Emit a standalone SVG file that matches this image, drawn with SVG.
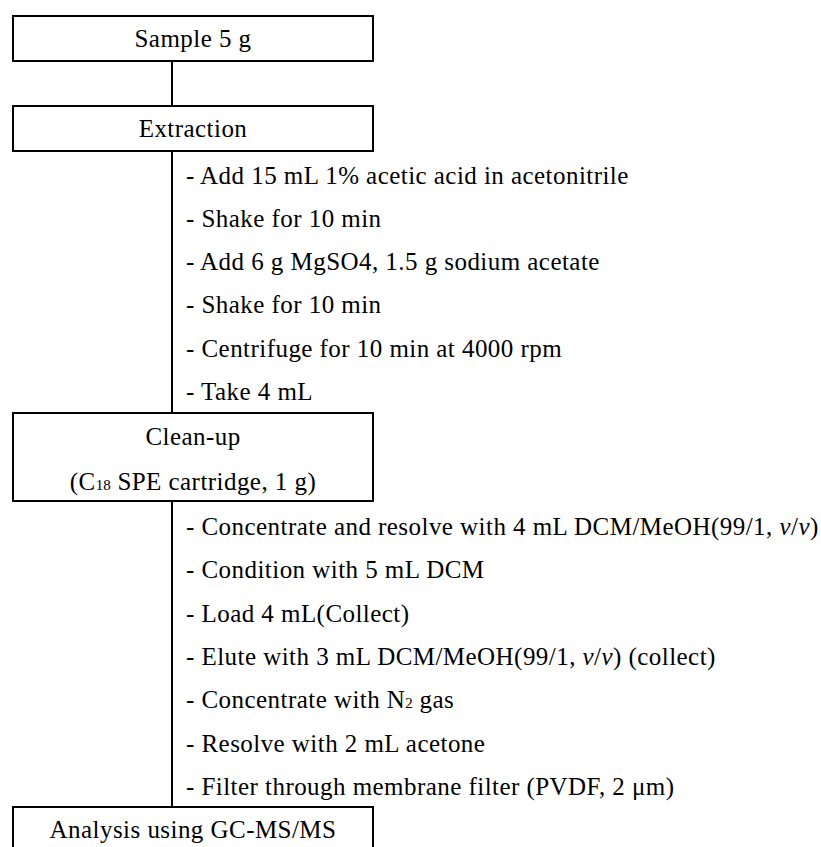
<svg xmlns="http://www.w3.org/2000/svg" width="821" height="847" viewBox="0 0 821 847">
<style>
.box{fill:#fff;stroke:#000;stroke-width:2}
.con{stroke:#000;stroke-width:2;fill:none}
text{font-family:"Liberation Serif","Times New Roman",serif;font-size:25px;letter-spacing:0.45px;fill:#000}
.c{text-anchor:middle}
.sub{font-size:15px;letter-spacing:0}
.i{font-style:italic}
</style>
<rect width="821" height="847" fill="#fff"/>
<g id="connectors">
<line class="con" x1="172" y1="61" x2="172" y2="106"/>
<line class="con" x1="172" y1="151" x2="172" y2="413"/>
<line class="con" x1="172" y1="501" x2="172" y2="807"/>
</g>
<g id="sample">
<rect class="box" x="13" y="16" width="360" height="45"/>
<text class="c" x="193" y="47">Sample 5 g</text>
</g>
<g id="extraction">
<rect class="box" x="13" y="106" width="360" height="45"/>
<text class="c" x="193" y="137">Extraction</text>
</g>
<g id="extraction-steps">
<text x="186" y="184">- Add 15 mL 1% acetic acid in acetonitrile</text>
<text x="186" y="227">- Shake for 10 min</text>
<text x="186" y="270">- Add 6 g MgSO4, 1.5 g sodium acetate</text>
<text x="186" y="313">- Shake for 10 min</text>
<text x="186" y="357">- Centrifuge for 10 min at 4000 rpm</text>
<text x="186" y="400">- Take 4 mL</text>
</g>
<g id="cleanup">
<rect class="box" x="13" y="413" width="360" height="88"/>
<text class="c" x="193" y="445">Clean-up</text>
<text class="c" x="193" y="490">(C<tspan class="sub">18</tspan> SPE cartridge, 1 g)</text>
</g>
<g id="cleanup-steps">
<text x="186" y="535">- Concentrate and resolve with 4 mL DCM/MeOH(99/1, <tspan class="i">v</tspan>/<tspan class="i">v</tspan>)</text>
<text x="186" y="578">- Condition with 5 mL DCM</text>
<text x="186" y="622">- Load 4 mL(Collect)</text>
<text x="186" y="665">- Elute with 3 mL DCM/MeOH(99/1, <tspan class="i">v</tspan>/<tspan class="i">v</tspan>) (collect)</text>
<text x="186" y="708">- Concentrate with N<tspan class="sub">2</tspan> gas</text>
<text x="186" y="752">- Resolve with 2 mL acetone</text>
<text x="186" y="795">- Filter through membrane filter (PVDF, 2 μm)</text>
</g>
<g id="analysis">
<rect class="box" x="13" y="807" width="360" height="45"/>
<text class="c" x="193" y="838">Analysis using GC-MS/MS</text>
</g>
</svg>
